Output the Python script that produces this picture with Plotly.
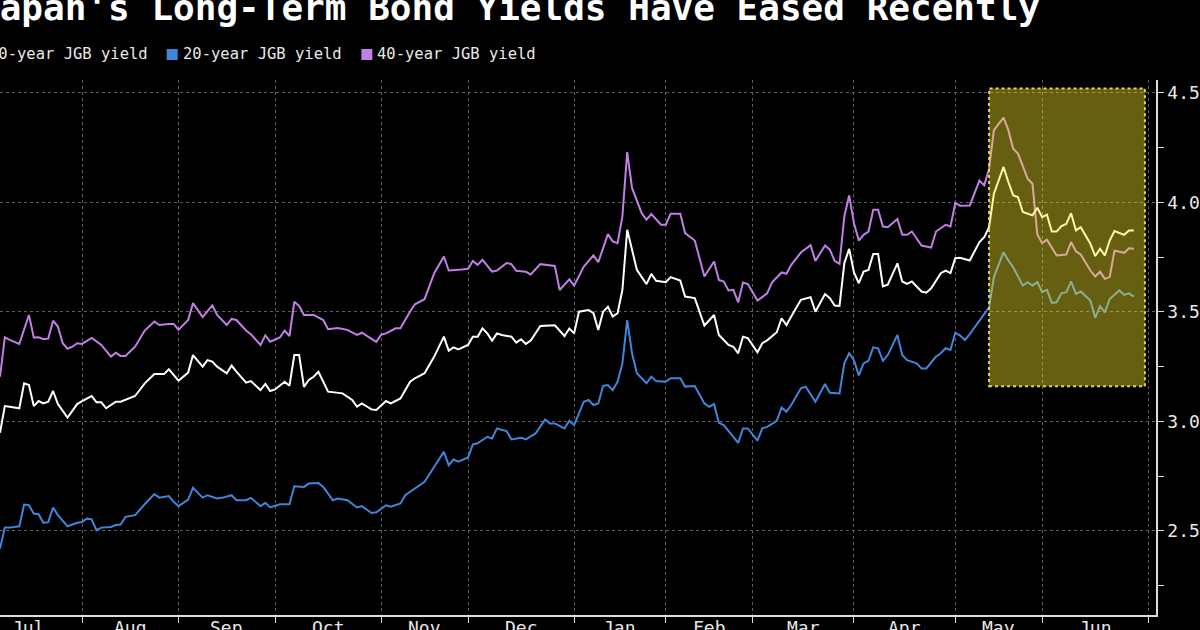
import plotly.graph_objects as go

# ---------------- data (x = trading-session index, 0 = first session shown, early Jul) ----------------
TITLE = "Japan's Long-Term Bond Yields Have Eased Recently"
NAMES = ["30-year JGB yield", "20-year JGB yield", "40-year JGB yield"]
COLORS = ["#ffffff", "#3f86da", "#c07fe5"]

MONTH_LABELS = ["Jul", "Aug", "Sep", "Oct", "Nov", "Dec", "Jan", "Feb", "Mar", "Apr", "May", "Jun"]
MONTH_STARTS = [-5, 17, 37, 57, 79, 97, 119, 138, 156, 177, 198, 216, 238]
Y_TICKS = [2.5, 3.0, 3.5, 4.0, 4.5]
Y_MINOR = [2.25, 2.75, 3.25, 3.75, 4.25]

# highlighted recent period (sessions) and yield band
HL_X = [205, 237.3]
HL_Y = [3.16, 4.52]

y30_day = [0,1,2,4,5,6,7,8,9,10,11,12,14,16,17,19,20,21,22,24,25,28,30,32,34,35,37,39,40,42,43,44,45,47,48,49,51,52,54,55,56,57,59,60,61,62,63,64,65,66,68,70,71,73,74,75,77,78,80,81,83,85,86,88,90,92,93,94,95,97,98,99,100,101,102,103,104,106,107,108,109,110,112,115,117,118,119,120,122,123,124,125,126,127,128,129,130,131,132,134,135,136,138,139,141,142,144,146,148,149,151,152,153,154,155,157,158,159,161,162,163,164,166,168,169,171,172,173,174,175,176,177,178,179,180,181,182,183,184,186,187,188,189,191,192,193,195,196,197,198,199,201,203,204,205,206,208,209,210,211,212,214,215,216,217,218,219,220,221,222,223,224,226,227,228,229,230,231,233,234,235]
y30_val = [2.948,3.07,3.067,3.06,3.174,3.166,3.07,3.093,3.082,3.09,3.139,3.079,3.018,3.079,3.093,3.116,3.087,3.087,3.06,3.09,3.09,3.116,3.174,3.216,3.216,3.238,3.186,3.223,3.303,3.25,3.28,3.273,3.25,3.22,3.255,3.227,3.177,3.184,3.143,3.171,3.139,3.146,3.181,3.163,3.303,3.303,3.158,3.189,3.204,3.227,3.136,3.131,3.128,3.098,3.067,3.082,3.055,3.052,3.093,3.082,3.105,3.181,3.197,3.22,3.296,3.387,3.323,3.338,3.329,3.349,3.387,3.387,3.425,3.402,3.369,3.402,3.395,3.387,3.36,3.375,3.354,3.369,3.436,3.439,3.39,3.424,3.402,3.501,3.509,3.494,3.418,3.501,3.524,3.479,3.494,3.6,3.875,3.784,3.692,3.627,3.674,3.642,3.636,3.659,3.643,3.57,3.563,3.438,3.486,3.395,3.349,3.341,3.311,3.387,3.38,3.316,3.357,3.37,3.407,3.471,3.44,3.479,3.555,3.567,3.501,3.582,3.563,3.529,3.527,3.722,3.788,3.68,3.631,3.684,3.692,3.765,3.765,3.616,3.624,3.722,3.639,3.628,3.639,3.593,3.588,3.608,3.677,3.689,3.677,3.745,3.747,3.735,3.819,3.841,3.887,4.04,4.162,4.093,4.032,4.024,3.956,3.941,3.976,3.933,3.944,3.867,3.867,3.892,3.902,3.951,3.872,3.887,3.811,3.755,3.788,3.758,3.826,3.869,3.852,3.872,3.872]

y20_day = [0,1,2,4,5,6,7,8,9,10,11,12,14,16,17,18,19,20,21,23,24,25,26,28,30,32,33,35,36,37,39,40,42,43,45,46,48,49,51,52,54,55,56,58,60,61,63,64,66,67,69,70,72,73,74,75,77,78,80,81,83,84,86,88,90,92,93,94,95,97,98,99,101,102,103,105,106,108,109,111,113,114,115,117,118,119,121,122,123,124,125,126,127,128,129,130,131,132,134,135,136,138,139,141,142,144,146,147,148,149,150,153,154,155,157,158,159,161,162,163,164,166,167,169,171,172,174,175,176,177,178,179,180,181,182,183,184,186,187,188,190,191,192,193,194,195,196,197,198,199,200,201,203,204,205,206,208,209,210,212,213,214,215,216,217,218,219,220,221,222,223,224,226,227,228,229,230,232,233,234,235]
y20_val = [2.419,2.515,2.515,2.521,2.62,2.617,2.579,2.576,2.537,2.54,2.607,2.572,2.521,2.537,2.541,2.556,2.553,2.503,2.515,2.518,2.527,2.529,2.564,2.572,2.622,2.668,2.652,2.659,2.633,2.613,2.643,2.697,2.652,2.663,2.648,2.651,2.663,2.64,2.64,2.651,2.613,2.628,2.607,2.622,2.622,2.704,2.701,2.716,2.719,2.701,2.64,2.648,2.64,2.625,2.607,2.613,2.582,2.585,2.617,2.61,2.625,2.663,2.694,2.724,2.793,2.861,2.8,2.826,2.816,2.835,2.895,2.9,2.93,2.922,2.968,2.956,2.918,2.925,2.918,2.945,3.009,2.991,2.991,2.968,3.003,2.983,3.09,3.098,3.075,3.082,3.162,3.166,3.143,3.181,3.265,3.463,3.311,3.22,3.174,3.204,3.184,3.181,3.197,3.197,3.159,3.162,3.082,3.067,3.079,2.994,2.983,2.902,2.968,2.968,2.912,2.968,2.975,3.003,3.064,3.044,3.075,3.151,3.159,3.09,3.171,3.131,3.128,3.265,3.311,3.28,3.21,3.265,3.277,3.338,3.334,3.277,3.303,3.395,3.303,3.28,3.265,3.242,3.242,3.268,3.296,3.311,3.334,3.326,3.405,3.392,3.372,3.399,3.46,3.491,3.521,3.659,3.773,3.735,3.704,3.62,3.636,3.62,3.636,3.59,3.601,3.541,3.544,3.585,3.59,3.639,3.582,3.593,3.552,3.473,3.526,3.498,3.559,3.598,3.578,3.585,3.57]

y40_day = [0,1,2,4,6,7,8,9,10,11,12,13,14,15,16,17,19,21,23,24,25,26,28,30,32,33,35,36,37,39,40,42,44,45,47,48,49,51,52,54,55,56,58,59,60,61,62,63,65,67,68,70,72,74,75,78,79,80,82,83,85,86,88,90,92,93,95,97,98,99,100,102,103,105,106,107,109,110,112,115,116,118,119,121,123,124,126,127,128,129,130,131,133,134,135,137,138,139,141,142,144,146,148,149,150,151,152,153,154,155,157,159,160,162,163,164,166,168,169,171,172,173,174,175,176,177,178,179,180,181,182,183,184,186,187,188,189,191,193,194,196,197,198,199,201,203,204,205,206,208,209,210,211,213,214,215,216,217,219,221,222,223,224,226,227,228,229,230,231,233,234,235]
y40_val = [3.204,3.384,3.372,3.354,3.486,3.383,3.384,3.375,3.378,3.46,3.433,3.357,3.332,3.341,3.357,3.354,3.381,3.349,3.296,3.314,3.299,3.299,3.341,3.415,3.456,3.44,3.445,3.445,3.418,3.463,3.54,3.476,3.53,3.486,3.44,3.468,3.463,3.415,3.398,3.349,3.393,3.364,3.383,3.415,3.39,3.546,3.527,3.486,3.486,3.463,3.421,3.427,3.418,3.395,3.405,3.363,3.396,3.402,3.425,3.425,3.502,3.535,3.558,3.677,3.753,3.689,3.692,3.697,3.733,3.715,3.738,3.684,3.689,3.723,3.718,3.688,3.683,3.671,3.718,3.71,3.6,3.649,3.62,3.707,3.758,3.727,3.855,3.822,3.814,3.936,4.23,4.066,3.951,3.921,3.947,3.898,3.898,3.948,3.948,3.86,3.826,3.662,3.73,3.646,3.639,3.598,3.601,3.544,3.634,3.627,3.552,3.585,3.634,3.68,3.674,3.715,3.771,3.805,3.733,3.803,3.784,3.733,3.72,3.936,4.032,3.905,3.826,3.852,3.867,3.966,3.966,3.89,3.887,3.924,3.852,3.852,3.867,3.803,3.794,3.867,3.898,3.89,3.997,3.985,3.986,4.1,4.078,4.154,4.33,4.387,4.33,4.245,4.223,4.108,4.085,3.854,3.814,3.83,3.758,3.762,3.819,3.777,3.762,3.689,3.662,3.684,3.651,3.659,3.78,3.77,3.791,3.788]

# ---------------- layout geometry ----------------
W, H = 1200, 630
ML, MR, MT, MB = 0, 42, 80, 15
PW, PH = W - ML - MR, H - MT - MB
X_RANGE = [0, 239.6]
Y_RANGE = [2.116, 4.559]
FONT = "DejaVu Sans Mono"
TXT = "#e8e8e8"
GRID = "#5e5e5e"


def px_x(p):
    return (p - ML) / PW


def px_y(p):
    return (H - MB - p) / PH


fig = go.Figure()
for days, vals, name, col in [
    (y40_day, y40_val, NAMES[2], COLORS[2]),
    (y30_day, y30_val, NAMES[0], COLORS[0]),
    (y20_day, y20_val, NAMES[1], COLORS[1]),
]:
    fig.add_trace(go.Scatter(x=days, y=vals, mode="lines", name=name,
                             line=dict(color=col, width=2), hoverinfo="skip",
                             showlegend=False))

# highlighted box drawn above lines (tints them)
fig.add_shape(type="rect", xref="x", yref="y", x0=HL_X[0], x1=HL_X[1], y0=HL_Y[0], y1=HL_Y[1],
              fillcolor="rgba(255,234,40,0.40)", line=dict(color="#e6da3a", width=2, dash="dot"),
              layer="above")

annotations = []
# title (cropped at top-left like reference)
annotations.append(dict(text="<b>" + TITLE + "</b>", xref="paper", yref="paper",
                        x=px_x(-24), y=px_y(7.5), xanchor="left", yanchor="middle",
                        showarrow=False, font=dict(family=FONT, size=36, color="#ffffff")))
# legend
LEG_TEXT_X = [-11, 183, 378]
LEG_SQ_X = [-27, 167, 362]
LEG_ORDER = [0, 1, 2]
for k, i in enumerate(LEG_ORDER):
    annotations.append(dict(text=NAMES[i], xref="paper", yref="paper",
                            x=px_x(LEG_TEXT_X[k] - 2), y=px_y(54), xanchor="left", yanchor="middle",
                            showarrow=False, font=dict(family=FONT, size=15.5, color=TXT)))
    fig.add_shape(type="rect", xref="paper", yref="paper",
                  x0=px_x(LEG_SQ_X[k]), x1=px_x(LEG_SQ_X[k] + 11),
                  y0=px_y(60), y1=px_y(49), fillcolor=COLORS[i], line=dict(width=0))
# month labels centred in each month
for j, lab in enumerate(MONTH_LABELS):
    mid = (MONTH_STARTS[j] + MONTH_STARTS[j + 1]) / 2
    annotations.append(dict(text=lab, xref="x", yref="paper", x=mid, y=px_y(615),
                            xanchor="center", yanchor="top", showarrow=False,
                            font=dict(family=FONT, size=18, color=TXT)))

fig.update_layout(
    width=W, height=H, margin=dict(l=ML, r=MR, t=MT, b=MB, pad=0),
    paper_bgcolor="#000000", plot_bgcolor="#000000",
    showlegend=False, annotations=annotations,
    xaxis=dict(range=X_RANGE, tickvals=MONTH_STARTS[1:], ticktext=[""] * (len(MONTH_STARTS) - 1),
               ticks="outside", ticklen=6, tickcolor="#dcdcdc", tickwidth=1,
               showline=True, linecolor="#dcdcdc", linewidth=1.5,
               showgrid=True, gridcolor=GRID, griddash="3px,3px", gridwidth=1,
               zeroline=False, fixedrange=True),
    yaxis=dict(range=Y_RANGE, side="right", tickvals=Y_TICKS, ticktext=[f"{v:.1f}" for v in Y_TICKS],
               ticks="outside", ticklen=6, tickcolor="#dcdcdc", tickwidth=1,
               tickfont=dict(family=FONT, size=18, color=TXT),
               showline=True, linecolor="#dcdcdc", linewidth=1.5,
               showgrid=True, gridcolor=GRID, griddash="3px,3px", gridwidth=1,
               minor=dict(tickvals=Y_MINOR, ticks="outside", ticklen=6, tickcolor="#dcdcdc", showgrid=False),
               zeroline=False, fixedrange=True),
)

fig.write_html("out.html", config={"displayModeBar": False})
